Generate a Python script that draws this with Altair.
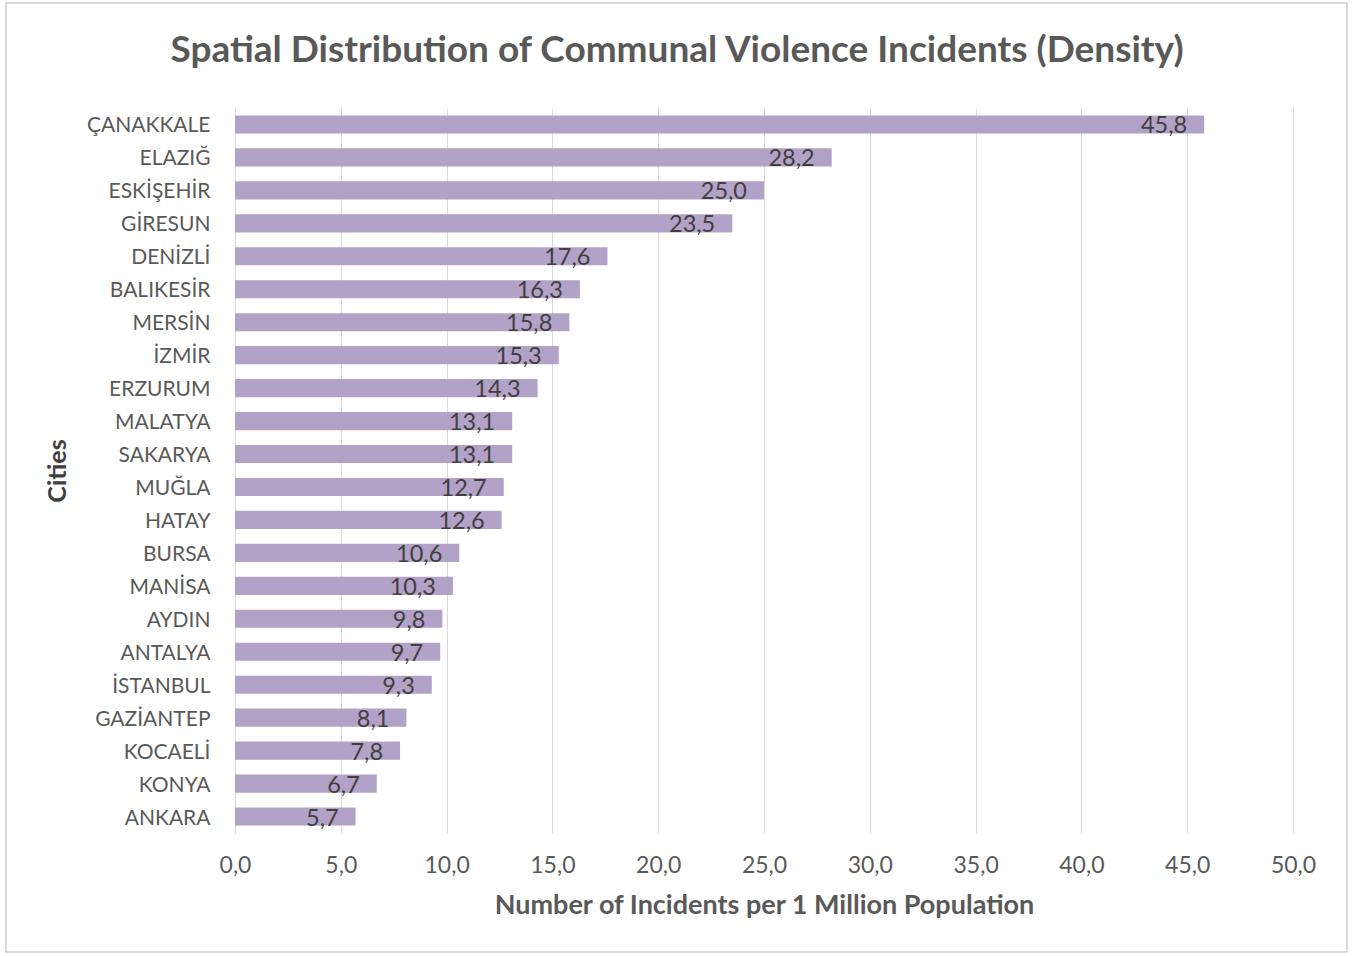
import altair as alt
import pandas as pd

cities = ["ÇANAKKALE", "ELAZIĞ", "ESKİŞEHİR", "GİRESUN", "DENİZLİ", "BALIKESİR",
          "MERSİN", "İZMİR", "ERZURUM", "MALATYA", "SAKARYA", "MUĞLA", "HATAY",
          "BURSA", "MANİSA", "AYDIN", "ANTALYA", "İSTANBUL", "GAZİANTEP",
          "KOCAELİ", "KONYA", "ANKARA"]
values = [45.8, 28.2, 25.0, 23.5, 17.6, 16.3, 15.8, 15.3, 14.3, 13.1, 13.1, 12.7,
          12.6, 10.6, 10.3, 9.8, 9.7, 9.3, 8.1, 7.8, 6.7, 5.7]
x_ticks = [0, 5, 10, 15, 20, 25, 30, 35, 40, 45, 50]
title_text = "Spatial Distribution of Communal Violence Incidents (Density)"

df = pd.DataFrame({"city": cities, "value": values})

FONT = "Lato"
TXT = "#595959"

x_enc = alt.X("value:Q",
              scale=alt.Scale(domain=[0, 50], nice=False),
              axis=alt.Axis(values=x_ticks,
                            labelExpr="replace(format(datum.value, '.1f'), '.', ',')",
                            title="Number of Incidents per 1 Million Population",
                            grid=True, gridColor="#d9d9d9", gridWidth=1,
                            domain=False, ticks=False, labelFlush=False,
                            labelFontSize=23, labelColor=TXT, labelPadding=21,
                            labelFont=FONT,
                            titleFontSize=27, titleFont=FONT, titleFontWeight="bold",
                            titleColor=TXT, titlePadding=15))
y_enc = alt.Y("city:N", sort=cities,
              scale=alt.Scale(paddingInner=0.45, paddingOuter=0.225),
              axis=alt.Axis(title="Cities", domain=True, domainColor="#d9d9d9",
                            ticks=False, labelFontSize=21, labelColor=TXT,
                            labelFont=FONT, labelPadding=25, labelOffset=2,
                            titleFontSize=25, titleFont=FONT,
                            titleFontWeight="bold", titleColor="#404040",
                            titlePadding=16))

bars = alt.Chart(df).mark_bar(color="#B3A2C7").encode(x=x_enc, y=y_enc)

labels = alt.Chart(df).transform_calculate(
    lab="replace(format(datum.value, '.1f'), '.', ',')"
).mark_text(align="right", baseline="middle", dx=-17, dy=2, fontSize=23.5,
            font=FONT, color="#404040").encode(
    x="value:Q", y=alt.Y("city:N", sort=cities), text="lab:N")

border = alt.Chart(df).mark_rect(fill=None, stroke="#d9d9d9", strokeWidth=2).encode(
    x=alt.value(-229), x2=alt.value(1112), y=alt.value(-105), y2=alt.value(844))

title = alt.Chart(pd.DataFrame({"t": [title_text]})).mark_text(
    align="center", baseline="middle", fontSize=37, font=FONT, fontWeight="bold",
    color=TXT).encode(x=alt.value(442), y=alt.value(-57), text="t:N")

chart = alt.layer(border, bars, labels, title).properties(
    width=1058, height=725,
    autosize=alt.AutoSizeParams(type="none"),
    padding={"left": 235, "top": 108, "right": 65, "bottom": 123},
).configure(background="white").configure_view(stroke=None)

chart.save("out.html", embed_options={"renderer": "svg", "actions": False})
